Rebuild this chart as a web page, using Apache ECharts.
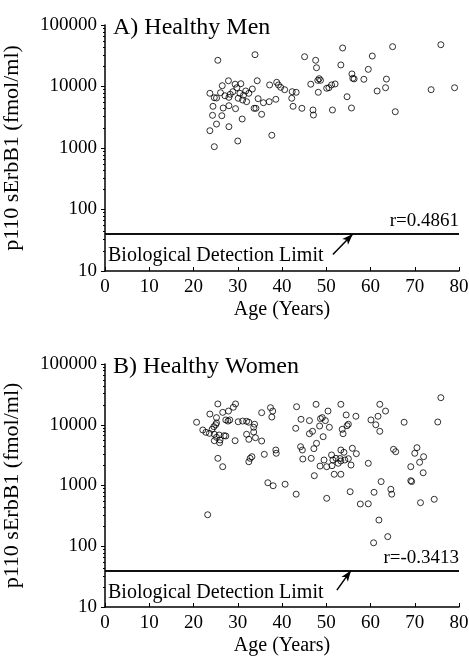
<!DOCTYPE html>
<html><head><meta charset="utf-8">
<script src="https://cdn.jsdelivr.net/npm/echarts@6/dist/echarts.min.js"></script>
<style>html,body{margin:0;padding:0;background:#fff}#c{width:469px;height:660px}</style>
</head><body><div id="c"></div>
<script>
// Panel A: Healthy Men
const menAge = [25.5,33.9,27.9,26.5,29.4,30.7,34.4,37.2,38.8,23.7,24.7,25.2,26.1,27.1,28.0,28.3,28.9,29.8,30.5,31.3,31.8,32.5,33.3,30.1,31.1,32.0,34.6,35.8,37.1,38.6,24.4,26.7,28.0,29.5,33.7,34.1,35.4,24.3,26.4,31.0,25.2,28.0,23.7,30.0,37.7,24.7,39.2,39.7,40.6,45.1,47.6,47.8,53.7,53.3,60.4,65.0,75.9,55.8,56.0,59.5,48.4,48.1,48.7,46.5,50.1,50.6,51.2,52.0,58.5,63.6,63.4,61.5,42.3,43.2,42.2,48.2,54.7,42.5,44.5,47.0,47.1,51.4,55.7,65.6,73.7,79.0,56.3];
const menVal = [26700,32900,12400,10300,10900,11100,12400,10600,11700,7750,6580,6500,7930,7080,6670,7470,8230,9550,7750,7190,8450,7750,9100,6430,6030,5660,6340,5450,5660,6190,4760,4470,4870,4360,4420,4420,3530,3400,3350,2960,2450,2220,1910,1300,1610,1050,10600,9700,8870,30500,26700,20200,42300,22400,31300,44400,47800,16000,13600,19000,13400,12600,12600,10900,9350,9550,10600,11000,13100,13200,9550,8450,8230,8050,6430,8050,6820,4760,4420,4150,3440,4150,4470,3890,8870,9550,13300];
// Panel B: Healthy Women
const womenAge = [25.5,29.5,23.7,26.6,27.9,29.0,20.7,25.2,27.3,27.8,28.2,30.1,31.1,32.0,32.5,33.8,35.4,37.4,37.9,37.7,22.1,22.8,23.6,24.2,24.6,25.0,25.2,24.7,25.2,25.8,26.9,27.3,26.0,24.7,25.9,29.4,32.0,32.5,33.6,34.0,35.4,33.6,36.0,38.6,38.7,32.8,33.2,25.5,26.6,32.5,36.8,38.0,23.2,43.3,47.7,53.3,62.1,75.9,50.4,63.4,44.3,46.2,48.7,49.1,49.8,54.5,56.7,61.7,60.1,61.2,67.6,75.2,43.1,48.5,50.7,46.2,46.9,53.6,53.8,54.7,55.0,62.1,49.3,47.8,44.2,44.6,47.2,44.7,46.6,53.3,54.0,55.9,56.8,51.2,51.5,49.5,52.2,53.1,53.3,54.2,55.0,55.6,48.6,50.1,51.3,52.7,59.5,65.2,65.7,70.5,70.0,72.0,71.1,69.1,71.9,40.7,43.2,47.3,51.8,53.3,50.1,55.4,57.7,59.5,60.8,62.4,64.6,64.8,69.1,69.3,71.3,74.4,61.9,63.9,60.7];
const womenVal = [22000,22000,15000,16000,16800,19400,11000,13100,12000,11500,12000,11200,11500,11400,11000,10200,15800,19100,16800,13400,8200,7510,7230,8410,9290,10000,10700,6970,6210,6780,6600,6530,5610,5460,5060,5460,6970,5760,7600,6120,5400,9080,3260,3840,3390,2800,2980,2800,2040,2460,1110,990,330,19800,21700,21700,21700,27900,16800,16800,12300,11700,12600,13100,11700,14500,13800,13800,12000,10000,11000,11100,8740,9530,9080,7120,7800,8410,7120,9640,10200,7800,6360,4950,4350,3840,4040,2730,2800,3840,3520,4100,3340,3180,2630,2630,2800,2780,2530,2630,2760,2170,2090,2040,2120,2320,2320,3940,3600,4190,3390,2980,2410,2040,1620,1050,720,1450,1530,1530,615,790,496,500,773,1160,866,720,1200,1160,521,593,270,144,114];
const titles = ['A) Healthy Men','B) Healthy Women'];
const rLabels = ['r=0.4861','r=-0.3413'];
const detectionLimit = 40;
const detectionText = 'Biological Detection Limit';
const arrowTail = [[51.5,18.5],[52.4,19]];
const arrowHead = [[56,40],[55.6,40]];
const xName = 'Age (Years)';
const yName = 'p110 sErbB1 (fmol/ml)';

const FONT = "'Liberation Serif','Times New Roman',serif";
const chart = echarts.init(document.getElementById('c'), null, {renderer:'canvas'});
const grids = [
  {left:105, width:354, top:25, height:246, outerBoundsMode:'none', containLabel:false},
  {left:105, width:354, top:364, height:243, outerBoundsMode:'none', containLabel:false}
];
function xAxis(i){
  return {gridIndex:i, type:'value', min:0, max:80, interval:10,
    name:xName, nameLocation:'middle', nameGap:29,
    nameTextStyle:{fontFamily:FONT, fontSize:20, color:'#000'},
    axisLine:{lineStyle:{color:'#000', width:1.5}},
    axisTick:{inside:true, length:4, lineStyle:{color:'#000'}},
    axisLabel:{fontFamily:FONT, fontSize:19, color:'#000', margin:7},
    splitLine:{show:false}};
}
function yAxis(i){
  return {gridIndex:i, type:'log', logBase:10, min:10, max:100000,
    name:yName, nameLocation:'middle', nameGap:82,
    nameTextStyle:{fontFamily:FONT, fontSize:22, color:'#000'},
    axisLine:{lineStyle:{color:'#000', width:1.5}},
    axisTick:{inside:false, length:4, lineStyle:{color:'#000'}},
    minorTick:{show:true, splitNumber:8, length:2, lineStyle:{color:'#000'}},
    axisLabel:{fontFamily:FONT, fontSize:19, color:'#000', margin:8,
      formatter:v=>String(Math.round(v))},
    splitLine:{show:false}};
}
function series(i, ages, vals){
  return {type:'scatter', xAxisIndex:i, yAxisIndex:i,
    data: ages.map((a,k)=>[a, vals[k]]),
    symbol:'circle', symbolSize:6,
    itemStyle:{color:'rgba(0,0,0,0)', borderColor:'#000', borderWidth:1},
    emphasis:{disabled:true},
    markLine:{silent:true, animation:false,
      data:[
        {yAxis:detectionLimit, symbol:'none', lineStyle:{color:'#000', width:1.5, type:'solid'},
          label:{show:true, formatter:rLabels[i], position:'insideEndTop', distance:[0,3],
            fontFamily:FONT, fontSize:19, color:'#000'}},
        {yAxis:detectionLimit, symbol:'none', lineStyle:{color:'#000', width:1.5, type:'solid'},
          label:{show:true, formatter:detectionText, position:'insideStartBottom', distance:[3,12],
            fontFamily:FONT, fontSize:20, color:'#000'}},
        [{coord:arrowTail[i], symbol:'none'},
         {coord:arrowHead[i], symbol:'arrow', symbolSize:[6,11],
          lineStyle:{color:'#000', width:1.5, type:'solid'}, label:{show:false}}]
      ],
      symbol:['none','none'],
      lineStyle:{color:'#000', width:1.5, type:'solid'}
    }};
}
chart.setOption({
  animation:false,
  backgroundColor:'#fff',
  title: titles.map((t,i)=>({text:t, left:108, top: grids[i].top - 14,
    textStyle:{fontFamily:FONT, fontSize:24, fontWeight:'normal', color:'#000'}})),
  grid: grids,
  xAxis:[xAxis(0), xAxis(1)],
  yAxis:[yAxis(0), yAxis(1)],
  series:[series(0, menAge, menVal), series(1, womenAge, womenVal)]
});
</script></body></html>
